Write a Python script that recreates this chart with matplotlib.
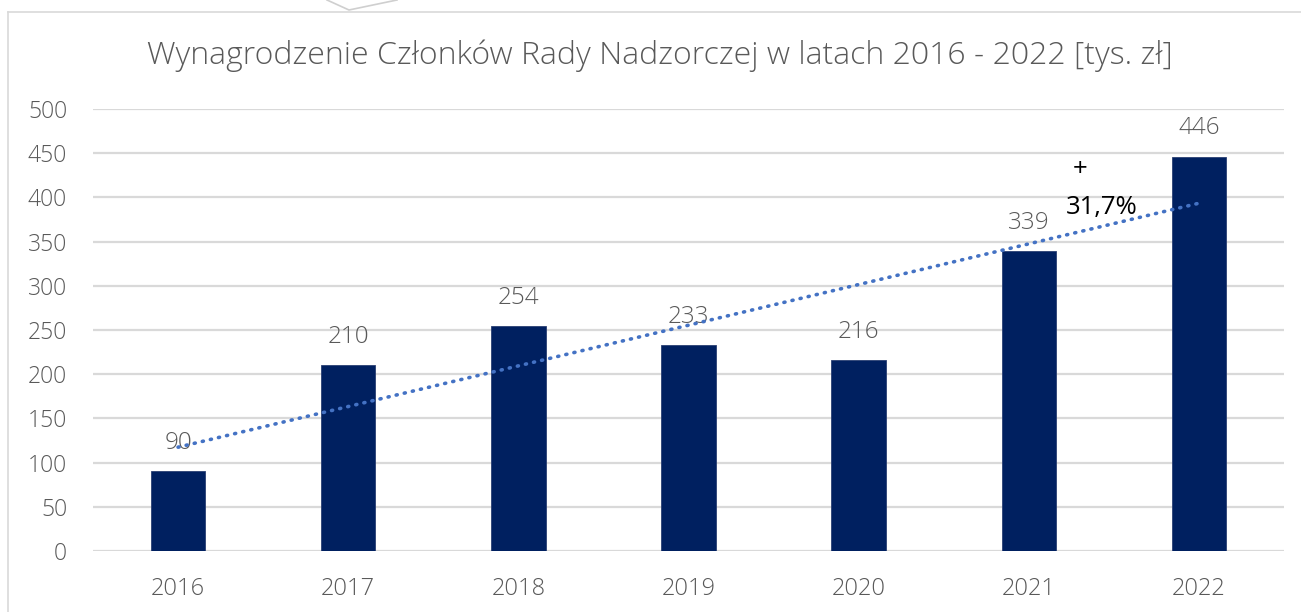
import matplotlib
matplotlib.use("Agg")
import matplotlib.pyplot as plt
from matplotlib.lines import Line2D
import numpy as np

plt.rcParams['font.family'] = ['Open Sans', 'DejaVu Sans']

years = ['2016', '2017', '2018', '2019', '2020', '2021', '2022']
values = [90, 210, 254, 233, 216, 339, 446]
y_ticks = [0, 50, 100, 150, 200, 250, 300, 350, 400, 450, 500]
title = 'Wynagrodzenie Członków Rady Nadzorczej w latach 2016 - 2022 [tys. zł]'
growth_sign = '+'
growth_value = '31,7%'

W, H = 1301, 612
fig = plt.figure(figsize=(W / 100, H / 100), dpi=100)
ax = fig.add_axes([93 / W, 1 - 551 / H, (1284 - 93) / W, (551 - 109) / H])

x = np.arange(len(years))
bar_color = '#002060'
grid_color = '#d9d9d9'
text_gray = '#595959'
light = 'light'

ax.bar(x, values, width=0.32, color=bar_color, edgecolor='#2a3f73', linewidth=0.6, zorder=3)

# linear trendline
coef = np.polyfit(x, values, 1)
tx = np.array([x[0], x[-1]])
ax.plot(tx, np.polyval(coef, tx), color='#4472C4', lw=2.6, linestyle=(0, (0.3, 2.0)),
        dash_capstyle='round', zorder=5)

for xi, v in zip(x, values):
    ax.annotate(str(v), (xi, v), xytext=(0, 20.5), textcoords='offset points',
                ha='center', va='center', fontsize=17.5, color=text_gray, zorder=4,
                fontweight=light)

ax.set_xlim(-0.5, len(years) - 0.5)
ax.set_ylim(0, 500)
ax.set_yticks(y_ticks)
ax.set_xticks(x)
ax.set_xticklabels(years)
ax.tick_params(axis='y', length=0, pad=18.7, labelsize=16.5, labelcolor=text_gray)
ax.tick_params(axis='x', length=0, pad=19, labelsize=17, labelcolor=text_gray)
for lab in ax.get_xticklabels() + ax.get_yticklabels():
    lab.set_fontweight(light)
ax.grid(axis='y', color=grid_color, lw=1.6, zorder=0)
for s in ax.spines.values():
    s.set_visible(False)

fig.text(660 / W, 1 - 56 / H, title, ha='center', va='center', fontsize=23,
         color=text_gray, fontweight=light)

# growth annotation placed in data coordinates
ax.text(5.3, 431, growth_sign, ha='center', va='center', fontsize=18.5, color='black', zorder=6)
ax.text(5.43, 389, growth_value, ha='center', va='center', fontsize=18.5, color='black', zorder=6)

# outer frame (top and left) and decoration
fig.add_artist(Line2D([8 / W, 1.0], [1 - 11.5 / H, 1 - 11.5 / H], transform=fig.transFigure,
                      color=grid_color, lw=1.2))
fig.add_artist(Line2D([8 / W, 8 / W], [0, 1 - 11.5 / H], transform=fig.transFigure,
                      color=grid_color, lw=1.2))
fig.add_artist(Line2D([327 / W, 349 / W, 397 / W], [1.0, 1 - 10 / H, 1.0], transform=fig.transFigure,
                      color='#cfcfcf', lw=1.2))

fig.savefig('out.png', dpi=100)
